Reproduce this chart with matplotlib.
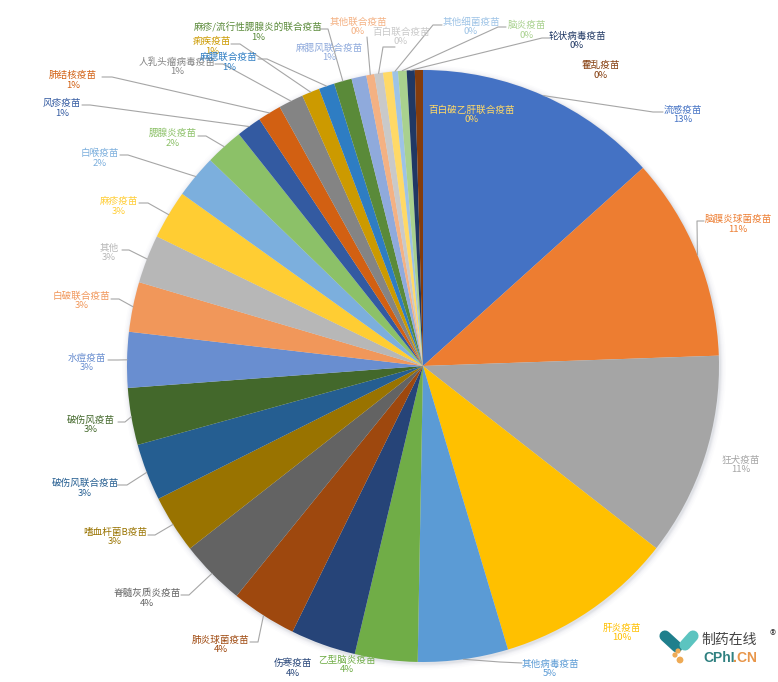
import numpy as np
import matplotlib
matplotlib.use("Agg")
import matplotlib.pyplot as plt
from matplotlib.patches import Circle

plt.rcParams['font.family'] = ['Noto Sans CJK SC', 'DejaVu Sans']

names = ["流感疫苗", "脑膜炎球菌疫苗", "狂犬疫苗", "肝炎疫苗", "其他病毒疫苗", "乙型脑炎疫苗", "伤寒疫苗",
         "肺炎球菌疫苗", "脊髓灰质炎疫苗", "嗜血杆菌B疫苗", "破伤风联合疫苗", "破伤风疫苗", "水痘疫苗",
         "白破联合疫苗", "其他", "麻疹疫苗", "白喉疫苗", "腮腺炎疫苗", "风疹疫苗", "肺结核疫苗",
         "人乳头瘤病毒疫苗", "痢疾疫苗", "麻腮联合疫苗", "麻疹/流行性腮腺炎的联合疫苗", "麻腮风联合疫苗",
         "其他联合疫苗", "百白联合疫苗", "百白破乙肝联合疫苗", "其他细菌疫苗", "脑炎疫苗", "轮状病毒疫苗", "霍乱疫苗"]
values = [13.33, 11.11, 11.11, 9.81, 4.92, 3.42, 3.56, 3.58, 3.58, 3.17, 3.11, 3.11, 3.03, 2.72, 2.64, 2.67,
          2.36, 2.08, 1.36, 1.28, 1.36, 0.97, 0.86, 0.97, 0.81, 0.44, 0.47, 0.5, 0.31, 0.47, 0.44, 0.44]
pct_labels = ["13%", "11%", "11%", "10%", "5%", "4%", "4%", "4%", "4%", "3%", "3%", "3%", "3%",
              "3%", "3%", "3%", "2%", "2%", "1%", "1%", "1%", "1%", "1%", "1%", "1%",
              "0%", "0%", "0%", "0%", "0%", "0%", "0%"]
colors = ["#4472C4", "#ED7D31", "#A5A5A5", "#FFC000", "#5B9BD5", "#70AD47", "#264478", "#9E480E",
          "#636363", "#997300", "#255E91", "#43682B", "#698ED0", "#F1975A", "#B7B7B7", "#FFCD33",
          "#7CAFDD", "#8CC168", "#335AA1", "#D26012", "#848484", "#CC9A00", "#2E7DC3", "#5A8A39",
          "#8FAADC", "#F4B183", "#C9C9C9", "#FFD966", "#9DC3E6", "#A9D18E", "#203864", "#843C0C"]

# label centres in image pixels
label_xy = [(683, 115), (738, 224), (741, 465), (622, 633), (550, 669), (347, 665), (293, 668),
            (221, 645), (147, 598), (115, 537), (85, 488), (91, 425), (87, 363), (82, 301),
            (109, 253), (119, 206), (100, 158), (173, 138), (62, 108), (73, 80), (177, 67),
            (212, 46), (229, 62), (258, 32), (329, 53), (358, 27), (401, 37), (472, 115),
            (471, 27), (527, 30), (577, 41), (601, 70)]
# leader bend and tip, None where the label has no line
leaders = [((653, 112), (663, 112)), ((697, 221), (704, 221)), None, None,
           ((500, 662), (522, 663)), None, None,
           ((258, 642), (250, 642)), ((189, 595), (181, 595)), ((155, 535), (148, 535)),
           ((127, 485), (117, 485)), ((125, 422), (118, 422)), ((118, 360), (108, 360)),
           ((119, 299), (111, 299)), ((129, 250), (122, 250)), ((148, 203), (139, 203)),
           ((128, 155), (120, 155)), ((206, 136), (198, 136)), ((90, 105), (82, 105)),
           ((112, 77), (102, 77)), ((223, 64), (215, 64)), ((240, 44), (231, 44)),
           ((267, 59), (258, 59)), ((328, 29), (319, 29)), None, ((367, 37), (367, 37)),
           ((383, 47), (395, 47)), None, ((433, 25), (442, 25)), ((498, 27), (506, 27)),
           ((542, 38), (549, 38)), None]

W, H = 778, 682
cx, cy, r = 423, 366, 296


def py(y):
    return H - y


fig = plt.figure(figsize=(W / 100, H / 100), dpi=100)
ax = fig.add_axes([0, 0, 1, 1])

# soft shadow round the pie
for dr, a in zip([6, 4.5, 3, 2, 1], [0.015, 0.025, 0.03, 0.05, 0.07]):
    ax.add_patch(Circle((cx + 1, py(cy + 1.5)), r + dr, color="#5a6a80", alpha=a, lw=0, zorder=1))

ax.pie(values, colors=colors, startangle=90, counterclock=False,
       center=(cx, py(cy)), radius=r, wedgeprops=dict(lw=0, zorder=2), frame=True)
ax.set_xlim(0, W)
ax.set_ylim(0, H)
ax.set_aspect("equal")
ax.axis("off")

# mid angle of each slice, clockwise from the top
shares = np.array(values) / sum(values) * 2 * np.pi
mids = np.cumsum(shares) - shares / 2

for i, name in enumerate(names):
    x, y = label_xy[i]
    ax.text(x, py(y - 5), name, color=colors[i], fontsize=6.9, fontweight=500,
            ha="center", va="center", zorder=5)
    ax.text(x, py(y + 5), pct_labels[i], color=colors[i], fontsize=6.9, fontweight=500,
            ha="center", va="center", zorder=5)
    if leaders[i] is None:
        continue
    bend, tip = leaders[i]
    ex = cx + r * np.sin(mids[i])
    ey = cy - r * np.cos(mids[i])
    ax.plot([ex, bend[0], tip[0]], [py(ey), py(bend[1]), py(tip[1])],
            color="#a6a6a6", lw=0.8, zorder=4, solid_capstyle="round")

# logo
ax.plot([665, 677], [py(636), py(647)], color="#1f7f8c", lw=8, solid_capstyle="round", zorder=6)
ax.plot([693, 685], [py(636), py(645)], color="#5cc4c0", lw=8, solid_capstyle="round", zorder=6)
ax.scatter([678, 675, 680], [py(651), py(655), py(660)], s=[14, 14, 24], color="#eeaa55", lw=0, zorder=7)
ax.text(729, py(640), "制药在线", color="#444444", fontsize=10, ha="center", va="center", zorder=6)
ax.text(773, py(636), "®", color="#444444", fontsize=9, ha="center", va="center", zorder=6)
ax.text(703, py(658), "CPhI", color="#2f8080", fontsize=10, fontweight="bold",
        family=["Liberation Sans"], ha="left", va="center", zorder=6)
ax.text(733, py(658), ".CN", color="#e8964a", fontsize=10, fontweight="bold",
        family=["Liberation Sans"], ha="left", va="center", zorder=6)

fig.savefig("out.png", dpi=100, facecolor="white")
